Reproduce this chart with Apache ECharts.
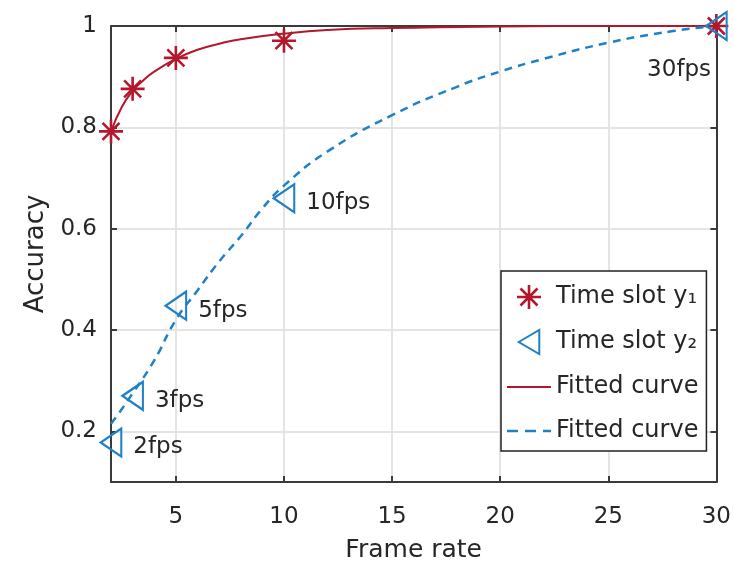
<!DOCTYPE html>
<html>
<head>
<meta charset="utf-8">
<script src="https://cdn.jsdelivr.net/npm/echarts@6/dist/echarts.min.js"></script>
<style>
  html, body { margin: 0; padding: 0; background: #fff; }
  #chart { width: 734px; height: 570px; }
</style>
</head>
<body>
<div id="chart"></div>
<script>
// Measured accuracy per frame rate for the two time slots
const frameRates = [2, 3, 5, 10, 30];
const accSlot1 = [0.792, 0.876, 0.937, 0.971, 1.0];
const accSlot2 = [0.178, 0.27, 0.448, 0.66, 1.0];

// Fitted curves for each slot
const fit1X = [2, 2.5, 3, 3.5, 4, 5, 6, 7, 8, 10, 12, 15, 20, 25, 30];
const fit1Y = [0.792, 0.84, 0.872, 0.893, 0.91, 0.935, 0.953, 0.965, 0.974, 0.985, 0.992, 0.996, 0.999, 1.0, 1.0];
const fit2X = [2, 2.3, 3, 4, 5, 6, 7, 8, 9, 10, 12, 15, 18, 20, 22, 25, 28, 30];
const fit2Y = [0.215, 0.232, 0.275, 0.34, 0.42, 0.478, 0.535, 0.585, 0.64, 0.685, 0.752, 0.824, 0.88, 0.91, 0.935, 0.967, 0.99, 1.0];

// Axis ticks
const xTicks = [5, 10, 15, 20, 25, 30];
const yTicks = [0.2, 0.4, 0.6, 0.8, 1];

const RED = '#B2182B';
const BLUE = '#1f80c8';
const TEXT = '#262626';
const FONT = 'DejaVu Sans';

// Eight-spoke asterisk marker
const starPath = 'path://M0 10.7 L24 10.7 L24 13.3 L0 13.3 Z M10.7 0 L13.3 0 L13.3 24 L10.7 24 Z ' +
  'M2.6 4.4 L4.4 2.6 L21.4 19.6 L19.6 21.4 Z M19.6 2.6 L21.4 4.4 L4.4 21.4 L2.6 19.6 Z';
// Left-pointing triangle marker
const leftTriPath = 'path://M0 14 L24 0 L24 28 Z';
// Legend icons for the fitted curves
const solidIcon = 'path://M0 0 H44 V2.2 H0 Z';
const dashIcon = 'path://M0 0 H11 V2.6 H0 Z M18 0 H29 V2.6 H18 Z M36 0 H44 V2.6 H36 Z';

const legendText = {
  slot1: 'Time slot y\u2081',
  slot2: 'Time slot y\u2082',
  fit1: 'Fitted curve',
  fit2: 'Fitted curve'
};

const pair = (xs, ys) => xs.map((x, i) => [x, ys[i]]);

const slot2Data = frameRates.map((x, i) => {
  const item = { value: [x, accSlot2[i]] };
  if (i === frameRates.length - 1) {
    item.label = { position: 'left', distance: 2, offset: [8, 44] };
  }
  return item;
});

const xAxisBase = {
  type: 'value', min: 2, max: 30,
  axisLine: { show: true, onZero: false, lineStyle: { color: '#3a3a3a', width: 2 } },
  axisTick: { show: true, inside: true, length: 6, customValues: xTicks, lineStyle: { color: '#3a3a3a', width: 2 } },
  splitLine: { show: false }
};
const yAxisBase = {
  type: 'value', min: 0.1, max: 1,
  axisLine: { show: true, onZero: false, lineStyle: { color: '#3a3a3a', width: 2 } },
  axisTick: { show: true, inside: true, length: 6, customValues: yTicks, lineStyle: { color: '#3a3a3a', width: 2 } },
  splitLine: { show: false }
};

const chart = echarts.init(document.getElementById('chart'));
chart.setOption({
  animation: false,
  backgroundColor: '#fff',
  grid: { left: 111, right: 14, top: 26, bottom: 88 },
  xAxis: [
    Object.assign({}, xAxisBase, {
      position: 'bottom',
      name: 'Frame rate', nameLocation: 'middle', nameGap: 56,
      nameTextStyle: { fontSize: 25, fontFamily: FONT, color: TEXT },
      axisLabel: { show: true, customValues: xTicks, margin: 24, fontSize: 23, fontFamily: FONT, color: TEXT },
      splitLine: { show: true, lineStyle: { color: '#e4e4e4', width: 2 } }
    }),
    Object.assign({}, xAxisBase, { position: 'top', axisLabel: { show: false } })
  ],
  yAxis: [
    Object.assign({}, yAxisBase, {
      position: 'left',
      name: 'Accuracy', nameLocation: 'middle', nameGap: 62,
      nameTextStyle: { fontSize: 26, fontFamily: FONT, color: TEXT },
      axisLabel: { show: true, customValues: yTicks, margin: 14, fontSize: 23, fontFamily: FONT, color: TEXT },
      splitLine: { show: true, lineStyle: { color: '#e4e4e4', width: 2 } }
    }),
    Object.assign({}, yAxisBase, { position: 'right', axisLabel: { show: false } })
  ],
  legend: {
    orient: 'vertical',
    left: 501, top: 271,
    padding: [14, 8, 8, 6],
    itemGap: 20,
    itemWidth: 44, itemHeight: 24,
    symbolKeepAspect: true,
    borderColor: '#222', borderWidth: 1.5,
    backgroundColor: '#fff',
    textStyle: { fontSize: 24, fontFamily: FONT, color: TEXT },
    formatter: n => legendText[n],
    data: [
      { name: 'slot1' },
      { name: 'slot2' },
      { name: 'fit1', icon: solidIcon },
      { name: 'fit2', icon: dashIcon }
    ]
  },
  series: [
    {
      name: 'fit1', type: 'line', smooth: true, symbol: 'none', clip: false, z: 3,
      data: pair(fit1X, fit1Y),
      lineStyle: { color: RED, width: 2 }, itemStyle: { color: RED }
    },
    {
      name: 'fit2', type: 'line', smooth: true, symbol: 'none', clip: false, z: 3,
      data: pair(fit2X, fit2Y),
      lineStyle: { color: BLUE, width: 2.5, type: [8, 6] }, itemStyle: { color: BLUE }
    },
    {
      name: 'slot1', type: 'scatter', symbol: starPath, symbolSize: 24, symbolKeepAspect: true,
      clip: false, z: 5,
      data: pair(frameRates, accSlot1),
      itemStyle: { color: RED, opacity: 1 }
    },
    {
      name: 'slot2', type: 'scatter', symbol: leftTriPath, symbolSize: [24, 28], symbolKeepAspect: true,
      clip: false, z: 5,
      data: slot2Data,
      itemStyle: { color: 'rgba(255,255,255,0)', borderColor: BLUE, borderWidth: 2.2, opacity: 1 },
      label: {
        show: true, position: 'right', distance: 11, offset: [0, 5],
        fontSize: 23, fontFamily: FONT, color: TEXT,
        formatter: p => p.value[0] + 'fps'
      }
    }
  ]
});
</script>
</body>
</html>
